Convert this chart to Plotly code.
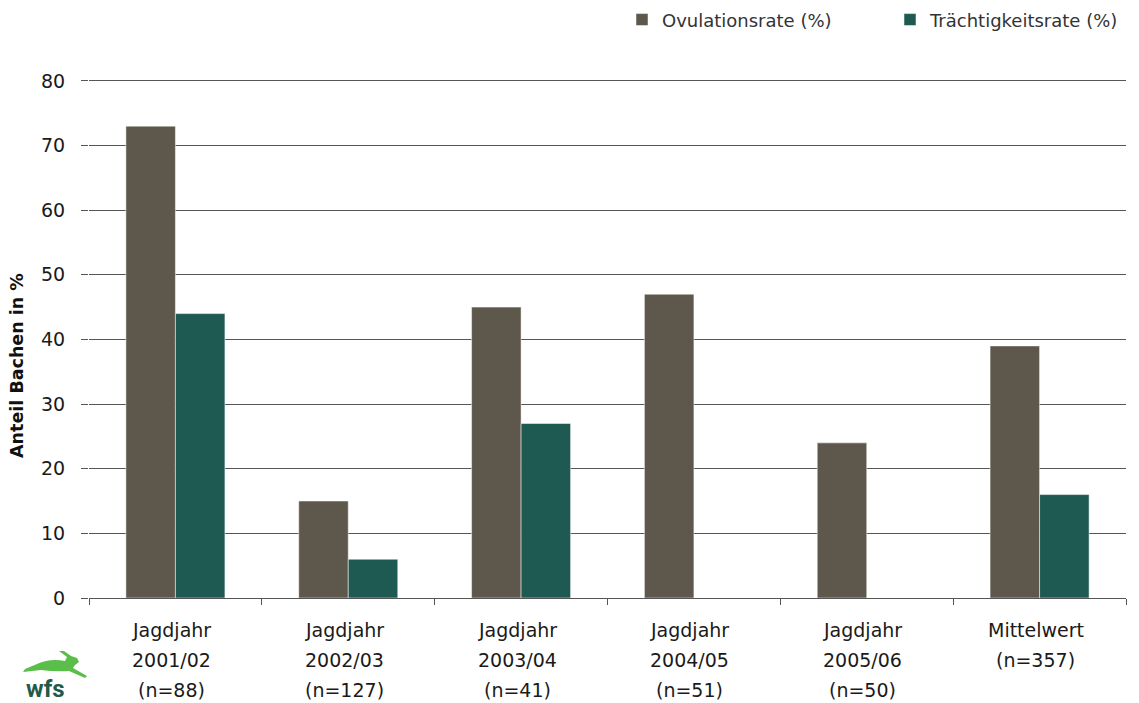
import plotly.graph_objects as go

categories = ["Jagdjahr 2001/02", "Jagdjahr 2002/03", "Jagdjahr 2003/04",
              "Jagdjahr 2004/05", "Jagdjahr 2005/06", "Mittelwert"]
label_lines = [["Jagdjahr", "2001/02", "(n=88)"],
               ["Jagdjahr", "2002/03", "(n=127)"],
               ["Jagdjahr", "2003/04", "(n=41)"],
               ["Jagdjahr", "2004/05", "(n=51)"],
               ["Jagdjahr", "2005/06", "(n=50)"],
               ["Mittelwert", "(n=357)"]]
ovulation = [73, 15, 45, 47, 24, 39]
traechtig = [44, 6, 27, 0, 0, 16]
series_names = ["Ovulationsrate (%)", "Trächtigkeitsrate (%)"]
y_ticks = [0, 10, 20, 30, 40, 50, 60, 70, 80]

FONT = "DejaVu Sans"
OFF = 8  # page body margin
W, H = 1139 - OFF, 703 - OFF
YMAX = 80.6
# y=80 at page 81, y=0 at page 598
SCALE = (598 - 81) / 80.0
PL, PR, PB = 89, 1126, 598
PT = PB - YMAX * SCALE
ML, MT = PL - OFF, PT - OFF
MR, MB = W - (PR - OFF), H - (PB - OFF)
PW, PH = PR - PL, PB - PT


def px(xp):
    return (xp - PL) / PW


def py(yp):
    return (PB - yp) / PH


fig = go.Figure()
fig.add_bar(x=categories, y=ovulation, name=series_names[0], legend="legend",
            showlegend=True,
            marker=dict(color="#5e574b", line=dict(color="#ffffff", width=0.5)))
fig.add_bar(x=categories, y=traechtig, name=series_names[1], legend="legend2",
            showlegend=True,
            marker=dict(color="#1e5a52", line=dict(color="#ffffff", width=0.5)))

annotations = []
for cat, lines in zip(categories, label_lines):
    for i, ln in enumerate(lines):
        annotations.append(dict(x=cat, xref="x", y=0, yref="paper", text=ln,
                                showarrow=False, yanchor="middle", xshift=-4,
                                yshift=-32 - 30 * i,
                                font=dict(family=FONT, size=19, color="#1a1a1a")))
# logo text
annotations.append(dict(x=px(45), xref="paper", y=py(689), yref="paper",
                        text="<b>wfs</b>", showarrow=False, xanchor="center", yanchor="middle",
                        font=dict(family="Roboto", size=24, color="#1f5b48")))
# y-axis title
annotations.append(dict(x=px(17), xref="paper", y=py(366), yref="paper",
                        text="<b>Anteil Bachen in %</b>", textangle=-90, showarrow=False,
                        xanchor="center", yanchor="middle",
                        font=dict(family=FONT, size=17.5, color="#111111")))

hare_path = ("M -30,-3 L -18,2 Q -5,8 10,5 L 12,9 L 4,15 L 9,15 L 16,10 L 22,8 "
             "L 24,4 L 20,1 L 18,-2 L 32,-10 L 30,-12 L 14,-5 Q 0,-6 -14,-4 L -32,-6 Z")
shapes = [dict(type="path", xref="paper", yref="paper",
               xsizemode="pixel", ysizemode="pixel",
               xanchor=px(55), yanchor=py(666),
               path=hare_path, fillcolor="#5bbd4a", line=dict(width=0))]

legend_style = dict(orientation="h", xanchor="left", yanchor="middle", visible=True,
                    font=dict(family=FONT, size=18, color="#333333"),
                    bgcolor="rgba(0,0,0,0)")

fig.update_layout(
    width=W, height=H,
    margin=dict(l=ML, r=MR, t=MT, b=MB, autoexpand=False),
    paper_bgcolor="white", plot_bgcolor="white",
    showlegend=True,
    barmode="group", bargap=0.427, bargroupgap=0,
    font=dict(family=FONT, size=17, color="#333333"),
    legend=dict(x=px(622), y=py(20), **legend_style),
    legend2=dict(x=px(890), y=py(20), **legend_style),
    xaxis=dict(showticklabels=False, ticks="outside", tickson="boundaries",
               ticklen=6, tickcolor="#555555", showline=True, linecolor="#555555",
               linewidth=1, showgrid=False, automargin=False),
    yaxis=dict(range=[0, YMAX], tickvals=y_ticks, showgrid=True, gridcolor="#555555",
               gridwidth=1, ticks="outside", ticklen=7, tickcolor="#555555",
               zeroline=False, showline=False, ticklabelstandoff=12, automargin=False,
               tickfont=dict(family=FONT, size=19, color="#1a1a1a")),
    annotations=annotations, shapes=shapes,
)

fig.write_html("out.html")
